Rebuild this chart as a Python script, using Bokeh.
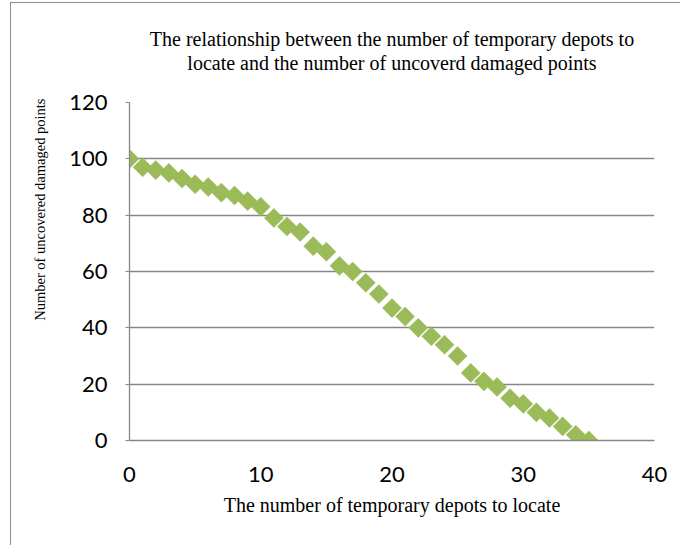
import math
from bokeh.plotting import figure
from bokeh.models import Range1d, FixedTicker, Title
from bokeh.embed import file_html
from bokeh.resources import INLINE

depots = list(range(0, 36))
uncovered = [100, 97, 96, 95, 93, 91, 90, 88, 87, 85, 83, 79, 76, 74, 69, 67, 62, 60,
             56, 52, 47, 44, 40, 37, 34, 30, 24, 21, 19, 15, 13, 10, 8, 5, 2, 0]
x_ticks = [0, 10, 20, 30, 40]
y_ticks = [0, 20, 40, 60, 80, 100, 120]
title_lines = ["The relationship between the number of temporary depots to",
               "locate and the number of uncoverd damaged points"]
x_title = "The number of temporary depots to locate"
y_title = "Number of uncovered damaged points"

GRID = "#868686"
GREEN = "#9BBB59"
SERIF = "Liberation Serif"
SANS = "Lato"

p = figure(width=670, height=543, output_backend="svg", toolbar_location=None,
           title=None,
           x_range=Range1d(0, 40), y_range=Range1d(0, 120),
           min_border_left=115, min_border_right=27, min_border_top=99,
           min_border_bottom=106)
p.styles = {"border-left": "1px solid #8c8c8c", "border-top": "1px solid #8c8c8c",
            "margin-top": "2px", "margin-left": "10px"}
p.outline_line_color = None
p.background_fill_color = "white"
p.border_fill_color = "white"

p.xgrid.visible = False
p.ygrid.grid_line_color = GRID
p.ygrid.grid_line_width = 1.3
p.ygrid.ticker = FixedTicker(ticks=y_ticks)

p.xaxis.ticker = FixedTicker(ticks=x_ticks)
p.xaxis.axis_line_color = GRID
p.xaxis.axis_line_width = 1.3
p.xaxis.major_tick_line_color = None
p.xaxis.minor_tick_line_color = None
p.xaxis.major_label_standoff = 20
p.xaxis.major_label_text_font = SANS
p.xaxis.major_label_text_font_size = "22px"
p.xaxis.major_label_text_color = "black"
p.xaxis.axis_label = x_title
p.xaxis.axis_label_text_font = SERIF
p.xaxis.axis_label_text_font_size = "20px"
p.xaxis.axis_label_text_font_style = "normal"
p.xaxis.axis_label_text_color = "black"
p.xaxis.axis_label_standoff = 9

p.yaxis.ticker = FixedTicker(ticks=y_ticks)
p.yaxis.axis_line_color = GRID
p.yaxis.axis_line_width = 1.3
p.yaxis.major_tick_line_color = GRID
p.yaxis.major_tick_out = 4
p.yaxis.major_tick_in = 0
p.yaxis.minor_tick_line_color = None
p.yaxis.major_label_standoff = 18
p.yaxis.major_label_text_font = SANS
p.yaxis.major_label_text_font_size = "22px"
p.yaxis.major_label_text_color = "black"

p.scatter(depots, uncovered, marker="square", angle=math.pi / 4, size=13.5,
          fill_color=GREEN, line_color=GREEN, line_width=0.5)

# spacer between the plot and the chart title
p.add_layout(Title(text=" ", standoff=26, text_font_size="1px"), "above")
# chart title: second line first so it sits nearest the plot
p.add_layout(Title(text=title_lines[1], align="center", offset=8, standoff=0,
                   text_font=SERIF, text_font_size="20px", text_font_style="normal",
                   text_line_height=1.0, text_color="black"), "above")
p.add_layout(Title(text=title_lines[0], align="center", offset=6, standoff=0,
                   text_font=SERIF, text_font_size="20px", text_font_style="normal",
                   text_line_height=1.0, text_color="black"), "above")

# rotated y-axis title, its end level with the top of the plot
p.add_layout(Title(text=y_title, align="right", offset=-4, standoff=37,
                   text_font=SERIF, text_font_size="14.5px", text_font_style="normal",
                   text_line_height=1.0, text_color="black"), "left")

open("out.html", "w").write(file_html(p, INLINE))
